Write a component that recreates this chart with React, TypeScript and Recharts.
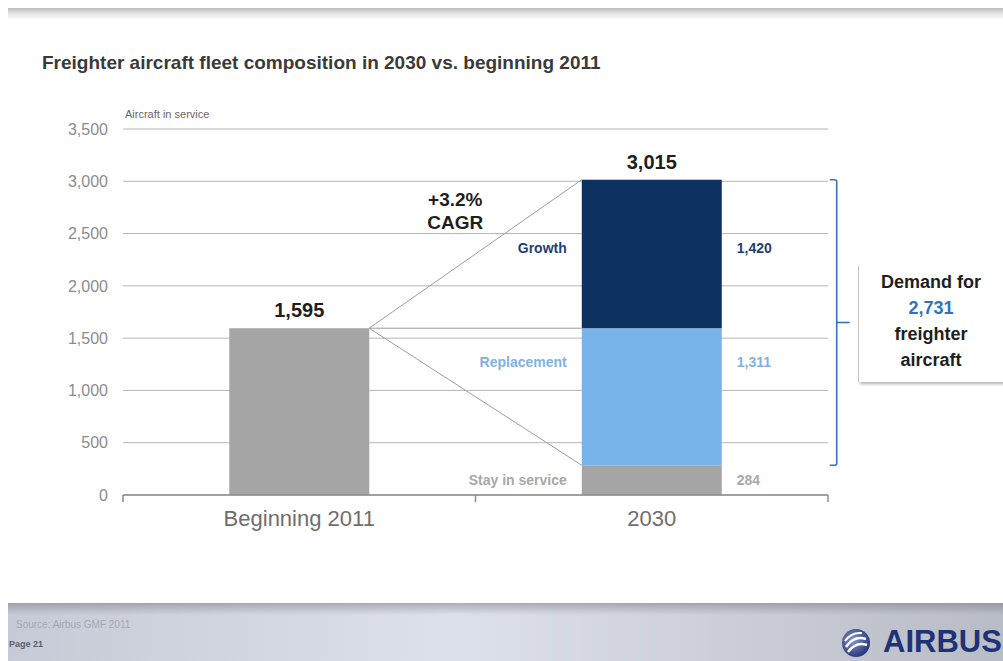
import { BarChart, Bar, XAxis, YAxis, CartesianGrid, LabelList } from 'recharts'

// fleet figures (aircraft in service)
const categories = ['Beginning 2011', '2030']
const fleet2011 = [1595, 0]
const stayInService = [0, 284]
const replacement = [0, 1311]
const growth = [0, 1420]
const yTicks = [0, 500, 1000, 1500, 2000, 2500, 3000, 3500]
const cagrText = ['+3.2%', 'CAGR']

const FONT = '"Liberation Sans", Arial, sans-serif'
const GREY = '#a5a5a5'
const NAVY = '#0d3261'
const LIGHT = '#78b3ea'
const BRACKET = '#3a73b8'
const FAN = '#9c9c9c'

// bar takes ~40% of each category band
const BAR_FRACTION = 0.397

const data = categories.map((name, i) => ({
  name,
  fleet2011: fleet2011[i],
  stay: stayInService[i],
  replacement: replacement[i],
  growth: growth[i],
  total: fleet2011[i] + stayInService[i] + replacement[i] + growth[i],
}))

const startFleet = data[0].total
const endFleet = data[1].total
const stayFleet = data[1].stay
const demand = data[1].replacement + data[1].growth

const fmt = (v: number) => v.toLocaleString('en-US')

function XTick(props: any) {
  const { x, y, payload, index, visibleTicksCount, width } = props
  const half = payload?.offset || (width && visibleTicksCount ? width / visibleTicksCount / 2 : 176)
  const last = index === visibleTicksCount - 1
  return (
    <g>
      <line x1={x - half} x2={x - half} y1={y} y2={y + 7} stroke="#8c8c8c" strokeWidth={1.5} />
      {last && <line x1={x + half} x2={x + half} y1={y} y2={y + 7} stroke="#8c8c8c" strokeWidth={1.5} />}
      <text x={x} y={y + 31} textAnchor="middle" fontSize={22} fill="#6e6e6e" fontFamily={FONT}>
        {payload.value}
      </text>
    </g>
  )
}

function totalLabel(props: any) {
  const { x, y, width, height, value } = props
  if (!value || !height) return null
  return (
    <text x={x + width / 2} y={y - 11} textAnchor="middle" fontSize={20} fontWeight="bold" fill="#1e1e1e" fontFamily={FONT}>
      {fmt(value)}
    </text>
  )
}

function segmentLabel(name: string, color: string, dy: number) {
  return (props: any) => {
    const { x, y, width, height, value } = props
    if (!value || !height) return null
    const cy = y + height / 2 + dy + 5
    return (
      <g fontFamily={FONT} fontSize={14} fontWeight="bold" fill={color}>
        <text x={x - 15} y={cy} textAnchor="end">{name}</text>
        <text x={x + width + 15} y={cy} textAnchor="start">{fmt(value)}</text>
      </g>
    )
  }
}

// top segment of the 2030 bar: also draws the fan from the 2011 bar, the CAGR note and the demand bracket
function GrowthShape(props: any) {
  const { x, y, width, height, fill } = props
  if (!height || height <= 0) return null
  const p = props.payload || data[1]
  const ppu = height / p.growth
  const base = y + height + (p.stay + p.replacement) * ppu
  const yOf = (v: number) => base - v * ppu
  const band = width / BAR_FRACTION
  const x0 = x - (band - width)
  const yStart = yOf(startFleet)
  const yEnd = yOf(endFleet)
  const yStay = yOf(stayFleet)
  const bx = x + width + band * 0.326
  const mid = (yEnd + yStay) / 2
  const cx = x0 + (x - x0) * 0.405
  return (
    <g>
      <rect x={x} y={y} width={width} height={height} fill={fill} />
      <line x1={x0} y1={yStart} x2={x} y2={yEnd} stroke={FAN} />
      <line x1={x0} y1={yStart} x2={x} y2={yStart} stroke={FAN} />
      <line x1={x0} y1={yStart} x2={x} y2={yStay} stroke={FAN} />
      <text textAnchor="middle" fontSize={19} fontWeight="bold" fill="#1e1e1e" fontFamily={FONT}>
        <tspan x={cx} y={yEnd + 26}>{cagrText[0]}</tspan>
        <tspan x={cx} y={yEnd + 49}>{cagrText[1]}</tspan>
      </text>
      <path
        d={`M${bx - 7},${yEnd} L${bx - 2},${yEnd} Q${bx},${yEnd} ${bx},${yEnd + 2} L${bx},${yStay - 2} Q${bx},${yStay} ${bx - 2},${yStay} L${bx - 7},${yStay}`}
        stroke={BRACKET}
        strokeWidth={1.6}
        fill="none"
      />
      <line x1={bx} y1={mid} x2={bx + 13} y2={mid} stroke={BRACKET} strokeWidth={1.6} />
    </g>
  )
}

function AirbusLogo() {
  return (
    <svg width={32} height={32} viewBox="0 0 32 32">
      <defs>
        <radialGradient id="lg" cx="40%" cy="40%" r="60%">
          <stop offset="0%" stopColor="#8a96c8" />
          <stop offset="100%" stopColor="#2a3a80" />
        </radialGradient>
      </defs>
      <circle cx={16} cy={16} r={14} fill="url(#lg)" />
      <path d="M6 20 Q14 8 26 12" stroke="#fff" strokeWidth={2.5} fill="none" />
      <path d="M8 25 Q16 14 27 18" stroke="#fff" strokeWidth={2.5} fill="none" />
      <path d="M5 14 Q11 5 22 6" stroke="#fff" strokeWidth={2} fill="none" />
    </svg>
  )
}

export default function App() {
  return (
    <div style={{ position: 'absolute', left: 0, top: 0, width: 1003, height: 661, background: '#fff', overflow: 'hidden', fontFamily: FONT }}>
      <div style={{ position: 'absolute', left: 8, top: 8, width: 995, height: 12, background: 'linear-gradient(#bcbcbc, #e6e6e6 50%, #fff)' }} />

      <div style={{ position: 'absolute', left: 42, top: 52, fontSize: 19, fontWeight: 'bold', color: '#3a3a3a', whiteSpace: 'nowrap' }}>
        Freighter aircraft fleet composition in 2030 vs. beginning 2011
      </div>
      <div style={{ position: 'absolute', left: 125, top: 108, fontSize: 11, color: '#666', whiteSpace: 'nowrap' }}>
        Aircraft in service
      </div>

      <div style={{ position: 'absolute', left: 0, top: 0 }}>
        <BarChart
          width={1003}
          height={661}
          data={data}
          margin={{ top: 129, right: 175, bottom: 126, left: 63 }}
          barCategoryGap={`${((1 - BAR_FRACTION) / 2) * 100}%`}
        >
          <CartesianGrid vertical={false} stroke="#b5b5b5" />
          <XAxis dataKey="name" height={40} tickLine={false} tickSize={0} tickMargin={0} axisLine={{ stroke: '#8c8c8c', strokeWidth: 1.5 }} tick={<XTick />} interval={0} />
          <YAxis
            domain={[0, 3500]}
            ticks={yTicks}
            width={60}
            axisLine={false}
            tickLine={false}
            tickMargin={9}
            tickFormatter={fmt}
            tick={{ fontSize: 16, fill: '#8c8c8c', fontFamily: FONT }}
          />
          <Bar dataKey="fleet2011" stackId="a" fill={GREY} isAnimationActive={false}>
            <LabelList dataKey="total" content={totalLabel} />
          </Bar>
          <Bar dataKey="stay" stackId="a" fill={GREY} isAnimationActive={false}>
            <LabelList dataKey="stay" content={segmentLabel('Stay in service', '#a8a8a8', 0)} />
          </Bar>
          <Bar dataKey="replacement" stackId="a" fill={LIGHT} isAnimationActive={false}>
            <LabelList dataKey="replacement" content={segmentLabel('Replacement', '#7fb2e4', -35)} />
          </Bar>
          <Bar dataKey="growth" stackId="a" fill={NAVY} isAnimationActive={false} shape={(p: any) => <GrowthShape {...p} />}>
            <LabelList dataKey="growth" content={segmentLabel('Growth', '#1f3f72', -6)} />
            <LabelList dataKey="total" content={totalLabel} />
          </Bar>
        </BarChart>
      </div>

      <div style={{ position: 'absolute', left: 858, top: 266, width: 150, height: 116, borderLeft: '1px solid #c4c4c4', boxShadow: '0 4px 3px -2px rgba(0,0,0,0.3)', background: '#fff' }}>
        <div style={{ width: 144, textAlign: 'center', fontSize: 18, fontWeight: 'bold', lineHeight: '26px', color: '#1e1e1e', paddingTop: 3 }}>
          <div>Demand for</div>
          <div style={{ color: '#2d74bf' }}>{fmt(demand)}</div>
          <div>freighter</div>
          <div>aircraft</div>
        </div>
      </div>

      <div style={{ position: 'absolute', left: 8, top: 603, width: 995, height: 58, background: 'linear-gradient(to right, #c5cad6, #dde1e9 45%, #c9ccd4 75%, #b8bcc6)' }}>
        <div style={{ position: 'absolute', left: 0, top: 0, right: 0, height: 12, background: 'linear-gradient(rgba(110,112,122,0.45), rgba(110,112,122,0))' }} />
        <div style={{ position: 'absolute', left: 8, top: 16, fontSize: 10, color: '#a3a9b8', whiteSpace: 'nowrap' }}>Source: Airbus GMF 2011</div>
        <div style={{ position: 'absolute', left: 1, top: 36, fontSize: 9, fontWeight: 'bold', color: '#5a5f6b', whiteSpace: 'nowrap' }}>Page 21</div>
        <div style={{ position: 'absolute', left: 832, top: 24 }}>
          <AirbusLogo />
        </div>
        <div style={{ position: 'absolute', left: 875, top: 21, fontSize: 31, fontWeight: 'bold', color: '#1f3276', whiteSpace: 'nowrap' }}>AIRBUS</div>
      </div>
    </div>
  )
}
